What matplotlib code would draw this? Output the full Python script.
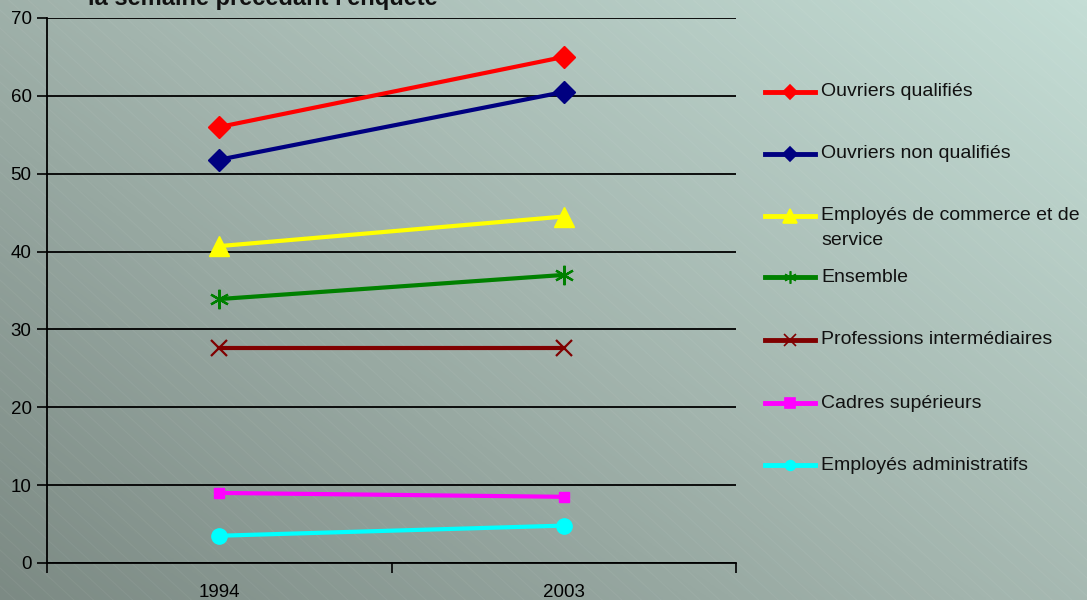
import matplotlib.pyplot as plt
import numpy as np
from matplotlib.colors import LinearSegmentedColormap
from matplotlib.lines import Line2D

plt.rcParams['font.family'] = ['Liberation Sans', 'DejaVu Sans']

years = ['1994', '2003']
series_names = [
    'Ouvriers qualifiés',
    'Ouvriers non qualifiés',
    'Employés de commerce et de\nservice',
    'Ensemble',
    'Professions intermédiaires',
    'Cadres supérieurs',
    'Employés administratifs',
]
ouvriers_qualifies = [56.0, 65.0]
ouvriers_non_qualifies = [51.8, 60.5]
employes_commerce = [40.7, 44.5]
ensemble = [33.9, 37.0]
professions_inter = [27.6, 27.6]
cadres_sup = [9.0, 8.5]
employes_admin = [3.5, 4.8]

values = [ouvriers_qualifies, ouvriers_non_qualifies, employes_commerce, ensemble,
          professions_inter, cadres_sup, employes_admin]
colors = ['#ff0000', '#000080', '#ffff00', '#008000', '#800000', '#ff00ff', '#00ffff']
markers = ['D', 'D', '^', (6, 2, 0), 'x', 's', 'o']
msizes = [11, 11, 14, 14, 12, 7, 11]
legend_msizes = [7, 7, 10, 9, 8, 7, 7]

fig = plt.figure(figsize=(10.87, 6.0), dpi=100)

# background gradient
bg = fig.add_axes([0, 0, 1, 1], zorder=-10)
gx, gy = np.meshgrid(np.linspace(0, 1, 300), np.linspace(0, 1, 200))
grad = (gx * 0.55 + gy * 0.45)
cmap = LinearSegmentedColormap.from_list('bg', ['#7c8a84', '#a3b5ae', '#c4ddd5'])
bg.imshow(grad, cmap=cmap, origin='lower', extent=[0, 1, 0, 1], aspect='auto')
for k in np.arange(-1.0, 2.0, 0.018):
    bg.plot([k, k + 0.6], [1, 0], color='white', alpha=0.05, lw=0.8)
bg.set_xlim(0, 1)
bg.set_ylim(0, 1)
bg.axis('off')

ax = fig.add_axes([0.0432, 0.0617, 0.634, 0.9083])
ax.patch.set_alpha(0)
x = np.arange(len(years))
for vals, c, m, ms in zip(values, colors, markers, msizes):
    mew = 1.6 if m in ['x', (6, 2, 0)] else 1
    ax.plot(x, vals, color=c, lw=3, marker=m, markersize=ms, markeredgecolor=c,
            markeredgewidth=mew, clip_on=False, zorder=3)

ax.set_xlim(-0.5, 1.5)
ax.set_ylim(0, 70)
ax.set_yticks(np.arange(0, 71, 10))
ax.yaxis.grid(True, color='black', lw=1.3)
ax.set_axisbelow(True)
ax.set_xticks([-0.5, 0.5, 1.5])
ax.set_xticklabels([])
ax.set_xticks(x, minor=True)
ax.set_xticklabels(years, minor=True)
ax.tick_params(axis='x', which='major', length=7, width=1.2, direction='out')
ax.tick_params(axis='x', which='minor', length=0, pad=15, labelsize=13.5)
ax.tick_params(axis='y', length=7, width=1.2, labelsize=13.5, pad=4)
for s in ['top', 'right']:
    ax.spines[s].set_visible(False)
for s in ['left', 'bottom']:
    ax.spines[s].set_linewidth(1.3)

# legend drawn manually, evenly spaced entries
leg_y = [92, 154, 216, 277, 340, 403, 465]
for name, c, m, lms, yy in zip(series_names, colors, markers, legend_msizes, leg_y):
    fy = 1 - yy / 600
    fig.add_artist(Line2D([765 / 1087, 815 / 1087], [fy, fy], color=c, lw=3.5))
    fig.add_artist(Line2D([790 / 1087], [fy], color=c, marker=m, markersize=lms,
                          markeredgecolor=c, markeredgewidth=1.2))
    for i, line in enumerate(name.split('\n')):
        fig.text(821 / 1087, 1 - (yy + 25 * i) / 600, line, fontsize=14, va='center',
                 color='#111111')

fig.text(263 / 1087, 1 - 5 / 600, "la semaine précédant l'enquête", fontsize=17,
         fontweight='bold', ha='center', va='baseline', color='#111111')

fig.savefig('out.png', dpi=100)
